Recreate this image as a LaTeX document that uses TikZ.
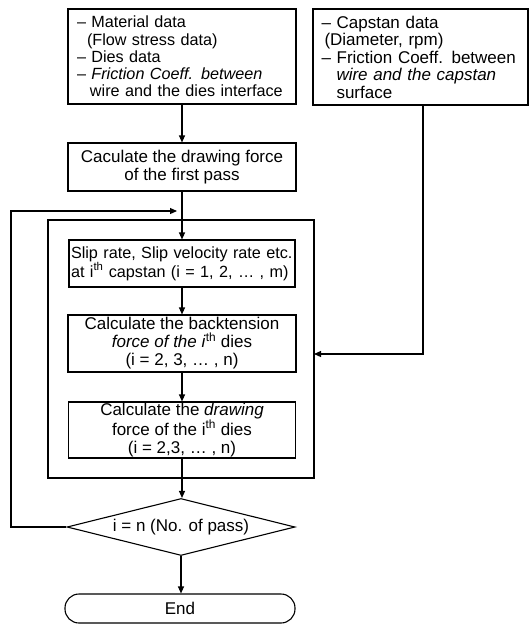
\documentclass[tikz,border=0pt]{standalone}
\usepackage{fontspec}
\setmainfont{Liberation Sans}
\usetikzlibrary{shapes.geometric,arrows.meta}

\begin{document}
\begin{tikzpicture}[x=1pt,y=-1pt,
  every node/.style={font=\fontsize{17}{17.5}\selectfont},
  box/.style={draw, line width=1.1pt, inner sep=0pt, rectangle},
  arr/.style={line width=1.1pt, -{Triangle[length=7pt,width=6pt]}}]
\useasboundingbox (0,0) rectangle (530,625);

% outer loop frame
\node[box, minimum width=266pt, minimum height=258pt] (frame) at (181,349) {};

% input data boxes
\node[box, minimum width=228pt, minimum height=95pt, text width=210pt, align=left,
      font=\fontsize{16.2}{17.2}\selectfont] (mat) at (182,56.5)
 {\mbox{\textendash{} Material data}\\
  \mbox{\hspace*{10pt}(Flow stress data)}\\
  \mbox{\textendash{} Dies data}\\
  \mbox{\textendash{} \textit{Friction Coeff. between}}\\
  \mbox{\hspace*{13pt}wire and the dies interface}};

\node[box, minimum width=215pt, minimum height=96pt, text width=198pt, align=left] (cap) at (420.5,57)
 {\mbox{\textendash{} Capstan data}\\
  \mbox{\hspace*{3pt}(Diameter, rpm)}\\
  \mbox{\textendash{} Friction Coeff. between}\\
  \mbox{\hspace*{15pt}\textit{wire and the capstan}}\\
  \mbox{\hspace*{15pt}surface}};

% process boxes
\node[box, minimum width=228pt, minimum height=48pt, align=center] (first) at (182,167)
 {Caculate the drawing force\\of the first pass};

\node[box, minimum width=226pt, minimum height=47pt, text width=222pt, align=left,
      font=\fontsize{16.2}{17.5}\selectfont] (slip) at (182,263.5)
 {\mbox{Slip rate, Slip velocity rate etc.}\\
  \mbox{at i\textsuperscript{th} capstan (i = 1, 2, \dots\ , m)}};

\node[box, minimum width=228pt, minimum height=57pt, align=center,
      font=\fontsize{17}{18}\selectfont] (back) at (182,343.5)
 {Calculate the backtension\\
  \textit{force of the i}\textsuperscript{th} dies\\
  (i = 2, 3, \dots\ , n)};

\node[box, minimum width=227pt, minimum height=56pt, align=center,
      font=\fontsize{17}{18}\selectfont] (draw) at (182,430)
 {Calculate the \textit{drawing}\\
  force of the i\textsuperscript{th} dies\\
  (i = 2,3, \dots\ , n)};

% decision and terminal
\node[draw, line width=1.1pt, diamond, shape aspect=4, inner sep=0pt,
      minimum width=228pt, minimum height=57pt] (test) at (181,527)
 {i = n (No. of pass)};

\node[draw, line width=1.1pt, rectangle, rounded corners=14pt,
      minimum width=230pt, minimum height=29pt] (end) at (180,608.5) {End};

% helper points
\coordinate (capout) at (423,105);
\coordinate (feed) at (314,354);
\coordinate (loopin) at (177,211);
\coordinate (loopleft) at (11,527);

% connectors
\draw[arr] (mat.south) -- (first.north);
\draw[arr] (first.south) -- (slip.north);
\draw[arr] (slip.south) -- (back.north);
\draw[arr] (back.south) -- (draw.north);
\draw[arr] (draw.south) -- (draw.south |- test.north);
\draw[arr] (test.south) -- (test.south |- end.north);
\draw[arr] (test.west) -- (loopleft) |- (loopin);
\draw[arr] (capout) |- (feed);
\end{tikzpicture}
\end{document}
